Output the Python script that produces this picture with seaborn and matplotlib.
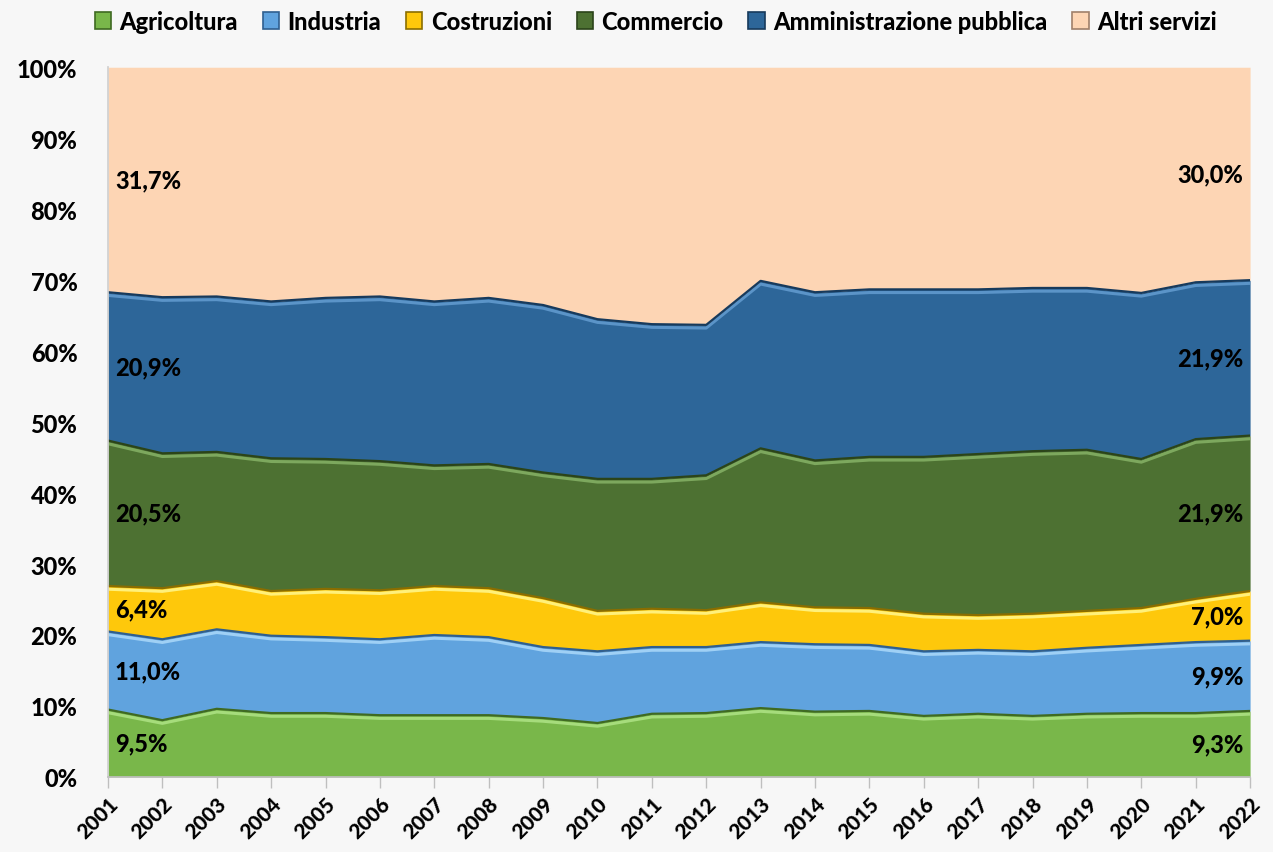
import matplotlib.pyplot as plt
import matplotlib.patches as mpatches
import numpy as np
import seaborn as sns

# Share of employment by sector (%)
years = list(range(2001, 2023))
agricoltura = [9.5, 8.0, 9.6, 9.0, 9.0, 8.7, 8.7, 8.7, 8.3, 7.6, 8.9, 9.0, 9.7, 9.2, 9.3, 8.6, 8.9, 8.6, 8.9, 9.0, 9.0, 9.3]
industria = [11.0, 11.4, 11.2, 10.9, 10.7, 10.7, 11.3, 11.0, 10.0, 10.1, 9.4, 9.3, 9.3, 9.5, 9.3, 9.1, 9.0, 9.1, 9.3, 9.6, 10.0, 9.9]
costruzioni = [6.4, 7.2, 6.8, 6.3, 6.8, 6.9, 6.9, 6.9, 6.9, 5.7, 5.4, 5.2, 5.6, 5.2, 5.2, 5.3, 4.9, 5.3, 5.2, 5.2, 6.1, 7.0]
commercio = [20.5, 19.0, 18.2, 18.7, 18.3, 18.2, 17.0, 17.5, 17.7, 18.6, 18.3, 19.0, 21.7, 20.7, 21.3, 22.1, 22.7, 22.9, 22.7, 21.0, 22.5, 21.9]
amministrazione = [20.9, 22.0, 21.9, 22.1, 22.7, 23.2, 23.1, 23.4, 23.6, 22.5, 21.8, 21.2, 23.6, 23.7, 23.6, 23.6, 23.2, 23.0, 22.8, 23.4, 22.1, 21.9]
altri = [31.7, 32.4, 32.3, 33.0, 32.5, 32.3, 33.0, 32.5, 33.5, 35.5, 36.2, 36.3, 30.1, 31.7, 31.3, 31.3, 31.3, 31.1, 31.1, 31.8, 30.3, 30.0]

labels = ["Agricoltura", "Industria", "Costruzioni", "Commercio", "Amministrazione pubblica", "Altri servizi"]
series = [agricoltura, industria, costruzioni, commercio, amministrazione, altri]
colors = ["#79b74a", "#60a3de", "#fec80b", "#4d7132", "#2d6699", "#fdd5b4"]
edges = ["#3f6a22", "#2f5f8f", "#8a6d00", "#2b4419", "#173a5c", "#a0806a"]
lights = ["#a6dc7c", "#9fd0f5", "#fff07a", "#7da85e", "#5b94c8", "#ffffff"]

sns.set_theme(style="white")
plt.rcParams['font.family'] = ['Lato', 'DejaVu Sans']
plt.rcParams['text.color'] = 'black'
plt.rcParams['xtick.color'] = 'black'
plt.rcParams['ytick.color'] = 'black'

fig = plt.figure(figsize=(12.73, 8.53), dpi=100, facecolor="#f7f7f7")
ax = fig.add_axes([0.0848, 0.088, 0.8972, 0.832])
ax.set_facecolor("#f7f7f7")

ax.stackplot(years, *series, colors=colors, labels=labels, linewidth=0)

# bevel-like boundary lines on top of each layer
cum = np.cumsum(np.array(series), axis=0)
for i in range(len(series) - 1):
    sns.lineplot(x=years, y=cum[i] - 0.45, ax=ax, color=lights[i], lw=2.2, legend=False)
    sns.lineplot(x=years, y=cum[i], ax=ax, color=edges[i], lw=1.6, legend=False)

ax.set_xlim(years[0], years[-1])
ax.set_ylim(0, 100)
ax.set_yticks(range(0, 101, 10))
ax.set_yticklabels([f"{v}%" for v in range(0, 101, 10)], fontsize=17, fontweight="black")
ax.set_xticks(years)
ax.set_xticklabels([str(y) for y in years], rotation=45, ha="right", rotation_mode="anchor",
                   fontsize=15, fontweight="black")
ax.tick_params(axis="x", length=8, color="#bfbfbf", width=1, pad=4, direction="out", bottom=True)
ax.tick_params(axis="y", length=0, pad=22)
for s in ["top", "right"]:
    ax.spines[s].set_visible(False)
ax.spines["left"].set_color("#d0d0d0")
ax.spines["bottom"].set_color("#bfbfbf")

# value labels at the first and last year
bottoms = np.vstack([np.zeros(len(years)), cum[:-1]])
for i, s in enumerate(series):
    mid0 = bottoms[i][0] + s[0] / 2
    mid1 = bottoms[i][-1] + s[-1] / 2
    ax.annotate(f"{s[0]:.1f}%".replace(".", ","), (years[0], mid0), xytext=(5, 0),
                textcoords="offset points", ha="left", va="center", fontsize=17, fontweight="black")
    ax.annotate(f"{s[-1]:.1f}%".replace(".", ","), (years[-1], mid1), xytext=(-5, 0),
                textcoords="offset points", ha="right", va="center", fontsize=17, fontweight="black")

handles = [mpatches.Patch(facecolor=c, edgecolor=e, linewidth=1.2) for c, e in zip(colors, edges)]
fig.legend(handles, labels, loc="upper center", bbox_to_anchor=(0.515, 1.012), ncol=6, frameon=False,
           prop={"size": 17, "weight": "black"}, handlelength=0.7, handleheight=0.7,
           handletextpad=0.35, columnspacing=1.05)

fig.savefig("out.png", dpi=100, facecolor=fig.get_facecolor())
